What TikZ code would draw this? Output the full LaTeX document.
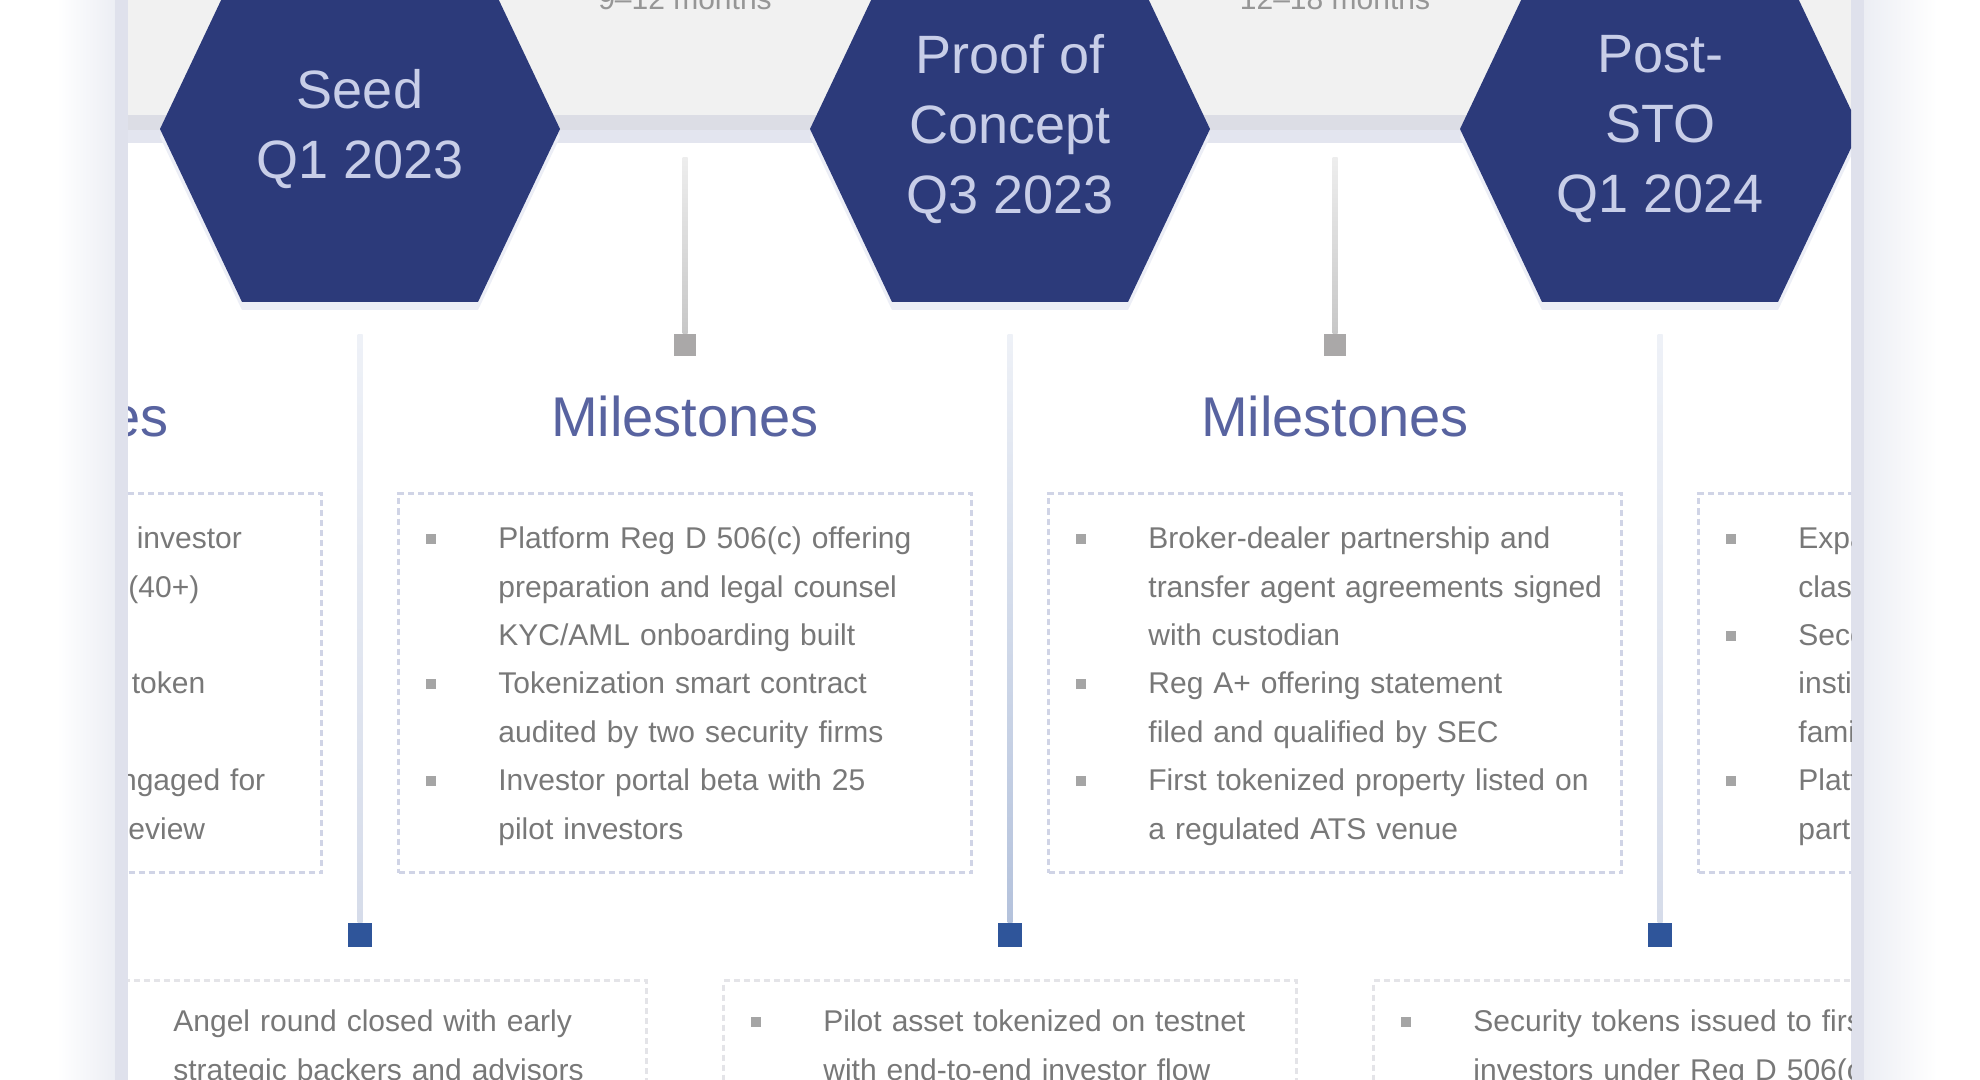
\documentclass[tikz,border=0pt]{standalone}
\usepackage{fontspec}
\setmainfont{Liberation Sans}
\definecolor{cnavy}{RGB}{44,58,122}
\definecolor{chexink}{RGB}{200,206,232}
\definecolor{chexshade}{RGB}{236,238,246}
\definecolor{chead}{RGB}{88,99,160}
\definecolor{cink}{RGB}{120,120,120}
\definecolor{cdot}{RGB}{165,165,165}
\definecolor{cnote}{RGB}{150,150,150}
\definecolor{cband}{RGB}{241,241,241}
\definecolor{crail}{RGB}{220,221,229}
\definecolor{crailb}{RGB}{227,229,239}
\definecolor{cedge}{RGB}{223,225,236}
\definecolor{cedgel}{RGB}{236,238,244}
\definecolor{cbox}{RGB}{208,212,230}
\definecolor{cboxb}{RGB}{228,228,232}
\definecolor{ctick}{RGB}{170,168,168}
\definecolor{cpin}{RGB}{47,85,154}
\definecolor{cstemtop}{RGB}{238,241,247}
\definecolor{cstem}{RGB}{214,220,234}
\definecolor{cstemhi}{RGB}{180,194,220}
\newcommand\msitem[1]{\par\hangindent=36pt\hangafter=1\noindent\strut\makebox[36pt][l]{\textcolor{cdot}{\rule[2.5pt]{5pt}{5pt}}}#1\par}
\tikzset{timeline/.style={x=0.5pt,y=0.5pt},
  hexlabel/.style={text=chexink,align=center,inner sep=0pt,font=\fontsize{27}{35}\selectfont},
  phasehead/.style={text=chead,anchor=base,inner sep=0pt,font=\fontsize{28}{30}\selectfont},
  bandnote/.style={text=cnote,anchor=base,inner sep=0pt,font=\fontsize{15}{18}\selectfont},
  msframe/.style={draw=cbox,line width=1.5pt,dash pattern=on 3pt off 2pt,anchor=north,minimum width=286.5pt,minimum height=189.5pt,inner sep=0pt},
  phaseframe/.style={msframe,draw=cboxb,minimum height=120pt},
  mslist/.style={anchor=north west,inner sep=0pt,text width=272pt,text=cink,font=\fontsize{15}{24.2}\selectfont},
  tickmark/.style={fill=ctick,minimum size=11pt,inner sep=0pt},
  pinmark/.style={fill=cpin,minimum size=12pt,inner sep=0pt}}

\begin{document}
\begin{tikzpicture}[timeline]
  \useasboundingbox (0,0) rectangle (1980,-1080);
  \fill[white] (0,0) rectangle (1980,-1080);
  % card shadow, left and right
  \shade[left color=white,right color=cedgel] (57,0) rectangle (115,-1080);
  \fill[cedge] (115,0) rectangle (128,-1080);
  \fill[cedge] (1851,0) rectangle (1864,-1080);
  \shade[left color=cedgel,right color=white] (1864,0) rectangle (1937,-1080);
  \begin{scope}
    \clip (128,0) rectangle (1851,-1080);
    \fill[cband] (128,0) rectangle (1851,-115);
    \fill[crail] (128,-115) rectangle (1851,-130);
    \fill[crailb] (128,-130) rectangle (1851,-143);
    \foreach \cx/\mk/\note in {35/msa/{3--6 months},685/msb/{9--12 months},1335/msc/{12--18 months},1985/msd/{18--24 months}}{
      \node[bandnote] (\mk-note) at (\cx,-10) {\note};
      \coordinate (\mk-top) at (\cx,-158);
      \node[tickmark] (\mk-tick) at (\cx,-345) {};
      \shade[top color=black!7,bottom color=black!22] ([xshift=-1.25pt]\mk-top) rectangle ([xshift=1.25pt]\mk-tick.north);
      \node[phasehead] (\mk-head) at (\cx,-437) {Milestones};
      \node[msframe] (\mk) at (\cx,-492) {};
    }
    \foreach \hx/\hk/\htext/\stemc in {360/seed/{Seed\\Q1 2023}/cstem,1010/poc/{Proof of\\Concept\\Q3 2023}/cstemhi,1660/sto/{Post-\\STO\\Q1 2024}/cstem}{
      \fill[chexshade] ({\hx-200},-137) -- ({\hx-118},36) -- ({\hx+118},36) -- ({\hx+200},-137) -- ({\hx+118},-310) -- ({\hx-118},-310) -- cycle;
      \fill[cnavy] ({\hx-200},-129) -- ({\hx-118},44) -- ({\hx+118},44) -- ({\hx+200},-129) -- ({\hx+118},-302) -- ({\hx-118},-302) -- cycle;
      \node[hexlabel] (\hk) at (\hx,-129) {\htext};
      \coordinate (\hk-foot) at (\hx,-335);
      \node[pinmark] (\hk-pin) at (\hx,-935) {};
      \shade[top color=cstemtop,bottom color=\stemc] ([xshift=-1.25pt]\hk-foot) rectangle ([xshift=1.25pt]\hk-pin.north);
      \node[phaseframe] (\hk-box) at (\hx,-979) {};
    }
    \node[mslist] (msa-list) at ([xshift=14.5pt,yshift=-4pt]msa.north west) {%
      \msitem{Market research and investor\newline discovery interviews (40+)\newline completed}%
      \msitem{Business model and token\newline design drafted}%
      \msitem{Securities counsel engaged for\newline regulatory structure review}};
    \node[mslist] (msb-list) at ([xshift=14.5pt,yshift=-4pt]msb.north west) {%
      \msitem{Platform Reg D 506(c) offering\newline preparation and legal counsel\newline KYC/AML onboarding built}%
      \msitem{Tokenization smart contract\newline audited by two security firms}%
      \msitem{Investor portal beta with 25\newline pilot investors}};
    \node[mslist] (msc-list) at ([xshift=14.5pt,yshift=-4pt]msc.north west) {%
      \msitem{Broker-dealer partnership and\newline transfer agent agreements signed\newline with custodian}%
      \msitem{Reg A+ offering statement\newline filed and qualified by SEC}%
      \msitem{First tokenized property listed on\newline a regulated ATS venue}};
    \node[mslist] (msd-list) at ([xshift=14.5pt,yshift=-4pt]msd.north west) {%
      \msitem{Expansion to additional asset\newline classes and markets}%
      \msitem{Second offering round for\newline institutional investors and\newline family offices}%
      \msitem{Platform licensing to\newline partner issuers}};
    \node[mslist] (seed-list) at ([xshift=14.5pt,yshift=-2pt]seed-box.north west) {%
      \msitem{Angel round closed with early\newline strategic backers and advisors}};
    \node[mslist] (poc-list) at ([xshift=14.5pt,yshift=-2pt]poc-box.north west) {%
      \msitem{Pilot asset tokenized on testnet\newline with end-to-end investor flow}};
    \node[mslist] (sto-list) at ([xshift=14.5pt,yshift=-2pt]sto-box.north west) {%
      \msitem{Security tokens issued to first\newline investors under Reg D 506(c)}};
  \end{scope}
\end{tikzpicture}
\end{document}
